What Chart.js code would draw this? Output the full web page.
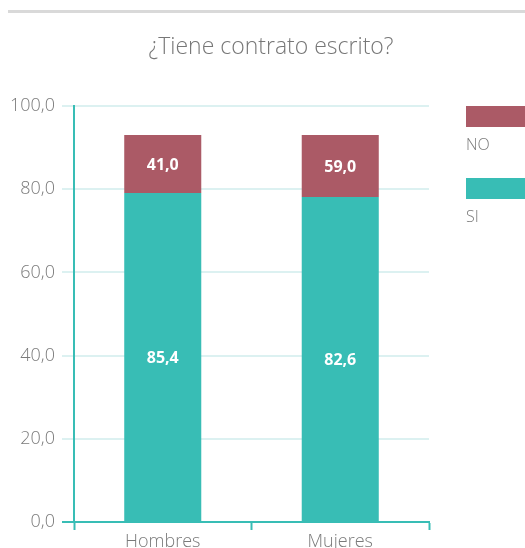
<!DOCTYPE html>
<html>
<head>
<meta charset="utf-8">
<script src="https://cdn.jsdelivr.net/npm/chart.js@4"></script>
<style>
  html, body { margin: 0; padding: 0; background: #fff; }
  #wrap { width: 525px; height: 548px; position: relative; }
</style>
</head>
<body>
<div id="wrap"><canvas id="chart"></canvas></div>
<script>
// data
const categories = ['Hombres', 'Mujeres'];
const siValues = [79.1, 78.1];      // drawn height of green segment
const noValues = [13.9, 14.9];      // drawn height of red segment
const siLabels = ['85,4', '82,6'];  // printed numbers
const noLabels = ['41,0', '59,0'];
const yTicks = [0, 20, 40, 60, 80, 100];

const GREEN = '#38bdb5';
const RED = '#ab5a66';
const GREY = '#7a7a7a';
const FONT = "'Open Sans', 'Noto Sans', sans-serif";

// top rule, title and the custom legend
const decorPlugin = {
    id: 'decor',
    afterDraw(chart) {
        const ctx = chart.ctx;
        ctx.save();
        ctx.fillStyle = '#d9d9d9';
        ctx.fillRect(8, 10, 517, 3);

        ctx.fillStyle = '#777';
        ctx.font = "300 23px " + FONT;
        ctx.textAlign = 'center';
        ctx.textBaseline = 'middle';
        ctx.fillText('¿Tiene contrato escrito?', 271, 47);

        // legend: box with label under it
        const items = [
            { text: 'NO', color: RED, y: 106 },
            { text: 'SI', color: GREEN, y: 178 }
        ];
        ctx.textAlign = 'left';
        ctx.font = "300 16px " + FONT;
        items.forEach(it => {
            ctx.fillStyle = it.color;
            ctx.fillRect(466, it.y, 70, 21);
            ctx.fillStyle = GREY;
            ctx.fillText(it.text, 466, it.y + 39);
        });
        ctx.restore();
    }
};

// white numbers inside the bars
const labelPlugin = {
    id: 'barLabels',
    afterDatasetsDraw(chart) {
        const ctx = chart.ctx;
        ctx.save();
        ctx.fillStyle = '#fff';
        ctx.font = "bold 16px " + FONT;
        ctx.textAlign = 'center';
        ctx.textBaseline = 'middle';
        const texts = [siLabels, noLabels];
        chart.data.datasets.forEach((ds, di) => {
            chart.getDatasetMeta(di).data.forEach((bar, i) => {
                const mid = (bar.y + bar.base) / 2;
                ctx.fillText(texts[di][i], bar.x, mid + 1);
            });
        });
        ctx.restore();
    }
};

new Chart(document.getElementById('chart'), {
    type: 'bar',
    data: {
        labels: categories,
        datasets: [
            { label: 'SI', data: siValues, backgroundColor: GREEN },
            { label: 'NO', data: noValues, backgroundColor: RED }
        ]
    },
    options: {
        responsive: true,
        maintainAspectRatio: false,
        animation: false,
        layout: { padding: { top: 106, right: 96, left: 0, bottom: 0 } },
        datasets: { bar: { categoryPercentage: 1, barPercentage: 0.434 } },
        plugins: {
            legend: { display: false },
            tooltip: { enabled: false }
        },
        scales: {
            x: {
                stacked: true,
                afterFit: s => { s.height = 26; },
                border: { color: GREEN, width: 2 },
                grid: {
                    offset: true,
                    drawOnChartArea: false,
                    drawTicks: true,
                    tickLength: 8,
                    tickColor: GREEN,
                    tickWidth: 2
                },
                ticks: { color: GREY, font: { family: FONT, size: 18, weight: '300' }, padding: 1 }
            },
            y: {
                stacked: true,
                min: 0,
                max: 100,
                afterFit: s => { s.width = 74; },
                afterBuildTicks: s => { s.ticks = yTicks.map(v => ({ value: v })); },
                border: { color: GREEN, width: 2 },
                grid: {
                    color: c => c.tick && c.tick.value === 0 ? GREEN : '#dcf1f1',
                    lineWidth: 2,
                    tickLength: 12
                },
                ticks: {
                    color: GREY,
                    padding: 7,
                    font: { family: FONT, size: 18, weight: '300' },
                    callback: v => v.toFixed(1).replace('.', ',')
                }
            }
        }
    },
    plugins: [decorPlugin, labelPlugin]
});
</script>
</body>
</html>
